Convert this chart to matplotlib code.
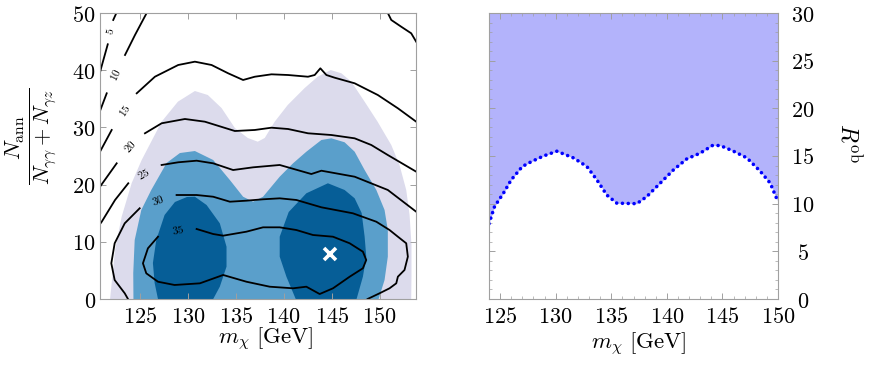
import numpy as np
import matplotlib
matplotlib.use('Agg')
import matplotlib.pyplot as plt
from matplotlib.ticker import MultipleLocator

plt.rcParams['mathtext.fontset'] = 'cm'
plt.rcParams['font.family'] = 'DejaVu Serif'

nan = np.nan

# ---- left panel: credible regions ----
lav_m = [121.88, 122.40, 123.09, 124.14, 125.18, 127.26, 128.96, 130.73, 132.08, 133.51,
         134.90, 136.25, 137.29, 138.02, 139.06, 140.42, 142.19, 143.54, 144.90, 146.01,
         147.05, 148.44, 149.79, 151.22, 152.08, 152.78, 153.13, 153.33, 153.33, 153.30]
lav_v = [0.0, 8.57, 14.39, 20.28, 24.30, 31.00, 34.50, 36.36, 35.66, 33.39,
         29.90, 28.15, 27.50, 28.15, 31.00, 33.92, 36.89, 38.86, 40.03, 39.46,
         37.99, 34.49, 31.00, 26.92, 23.43, 19.06, 14.69, 9.44, 4.20, 0.0]

mid_m = [124.32, 124.30, 124.45, 125.14, 126.18, 127.78, 129.17, 130.73, 132.64, 134.38,
         135.76, 136.80, 137.84, 139.58, 140.97, 142.36, 143.93, 144.97, 146.35, 147.40,
         148.44, 149.66, 150.52, 150.86, 150.86, 150.52, 149.90]
mid_v = [0.0, 4.55, 10.31, 15.56, 19.06, 23.78, 25.52, 25.87, 24.30, 20.80,
         17.88, 17.01, 17.88, 21.38, 23.72, 25.75, 27.80, 28.09, 27.40, 25.75,
         22.55, 19.06, 15.56, 12.06, 7.40, 3.32, 0.0]

darkL_m = [126.88, 126.53, 126.35, 126.70, 127.57, 128.65, 129.90, 130.73, 131.95, 133.33,
           134.03, 134.03, 133.33, 132.64]
darkL_v = [0.0, 2.80, 6.29, 10.31, 14.69, 16.96, 17.83, 17.88, 16.43, 13.23,
           9.14, 5.65, 2.15, 0.0]

darkR_m = [141.25, 140.28, 139.58, 139.58, 140.52, 142.36, 144.61, 146.35, 147.40, 148.13,
           148.44, 148.61, 148.26, 147.60]
darkR_v = [0.0, 3.90, 7.40, 10.89, 15.21, 18.48, 20.23, 19.06, 17.60, 15.03,
           10.89, 7.40, 3.90, 0.0]

# ---- left panel: contour lines (nan = gap) ----
c5_m = [122.54, 122.21, nan, 121.64, 120.94, 120.83]
c5_v = [50.0, 48.78, nan, 44.53, 40.33, 39.6]
c10_m = [125.70, 124.48, 123.44, nan, 121.53, 120.83, nan,
         150.86, 151.22, 152.26, 153.30, 153.82]
c10_v = [50.0, 46.15, 42.66, nan, 35.96, 32.87, nan,
         50.0, 48.78, 47.60, 46.45, 44.98]
c15_m = [124.66, 126.56, 128.99, 130.73, 132.47, 134.20, 135.76, 136.98, 138.72, 140.45,
         142.53, 143.23, 143.82, 144.45, 145.31, 147.40, 149.82, 151.91, 153.82,
         nan, 122.05, 120.83]
c15_v = [35.96, 38.86, 40.91, 41.49, 40.91, 39.46, 38.29, 38.86, 39.28, 39.16,
         38.86, 39.16, 40.33, 39.16, 38.69, 37.71, 35.66, 33.34, 31.00,
         nan, 29.55, 25.75]
c20_m = [125.52, 127.26, 129.69, 131.77, 134.90, 136.98, 138.72, 140.45, 142.53, 144.97,
         147.40, 149.14, 150.86, 153.82, nan, 122.57, 120.83]
c20_v = [28.97, 30.72, 31.47, 31.00, 29.37, 29.55, 29.95, 29.72, 28.97, 28.67,
         28.09, 26.92, 25.17, 22.26, nan, 23.72, 19.63]
c25_m = [127.26, 128.99, 130.91, 132.64, 134.72, 136.80, 139.58, 142.88, 143.93, 147.40,
         150.86, 153.82, nan, 123.78, 122.40, 121.01, 120.83]
c25_v = [23.43, 23.90, 24.18, 23.72, 22.55, 23.02, 23.43, 21.85, 22.43, 21.38,
         19.06, 15.26, nan, 20.23, 17.31, 13.51, 13.10]
c30_m = [128.82, 130.91, 132.64, 134.38, 136.11, 137.84, 139.58, 141.32, 143.93, 147.22,
         149.66, 151.04, 151.91, 152.78, 152.95, 152.60, 151.91, 151.74, 151.04, 150.00,
         148.75, nan, 124.97, 123.41, 122.36, 122.01, 122.36, 123.41, 123.75]
c30_v = [18.18, 18.18, 17.88, 17.01, 17.19, 17.43, 17.60, 17.31, 16.03, 14.98,
         13.51, 12.06, 10.89, 9.74, 7.40, 5.07, 3.90, 2.74, 1.87, 1.00,
         0.0, nan, 15.86, 13.23, 9.74, 6.24, 3.32, 1.00, 0.0]
c35_m = [130.91, 132.64, 133.68, 136.11, 137.84, 139.58, 141.32, 143.05, 145.14, 146.88,
         148.26, 148.61, 148.26, 146.88, 145.14, 143.75, 142.36, 140.97, 138.54, 136.11,
         133.68, 131.25, 128.61, 126.88, 125.66, 125.31, 125.83, 126.88]
c35_v = [12.24, 11.36, 11.07, 11.77, 12.53, 12.53, 12.06, 11.19, 10.89, 9.74,
         8.27, 6.82, 5.37, 3.90, 1.87, 0.87, 2.15, 1.87, 2.15, 3.02,
         4.20, 2.74, 2.45, 3.02, 4.49, 6.24, 8.86, 10.89]

label_levels = [5, 10, 15, 20, 25, 30, 35]
label_m = [121.88, 122.47, 123.36, 123.96, 125.34, 126.88, 128.96]
label_v = [46.85, 39.16, 33.04, 26.63, 21.98, 17.31, 12.15]
label_rot = [77, 64, 56, 47, 29, 20, 11]

best_m, best_v = 144.8, 7.8

# ---- right panel: R_ob bound ----
r_m = [124.0, 124.5, 125.3, 126.0, 127.0, 127.8, 128.9, 130.1, 131.6, 132.8, 133.7, 134.6,
       135.5, 137.3, 138.2, 139.4, 140.6, 141.8, 143.0, 144.1, 144.8, 146.0, 147.2, 148.4,
       149.3, 150.0]
r_v = [7.9, 9.7, 11.1, 12.5, 13.9, 14.4, 15.0, 15.5, 14.8, 13.9, 12.5, 10.9,
       10.05, 10.0, 10.75, 12.15, 13.55, 14.7, 15.3, 16.1, 16.1, 15.5, 14.8, 13.4,
       12.15, 10.2]

xticks_l = [125, 130, 135, 140, 145, 150]
yticks_l = [0, 10, 20, 30, 40, 50]
xticks_r = [125, 130, 135, 140, 145, 150]
yticks_r = [0, 5, 10, 15, 20, 25, 30]

spine_c = '#a0a0a0'
fs = 16
fl = 16.5

fig = plt.figure(figsize=(8.72, 3.65), dpi=100)
ax1 = fig.add_axes([100/872, 66/365, 316/872, 286/365])
ax2 = fig.add_axes([489/872, 66/365, 289/872, 286/365])

# left panel
ax1.fill(lav_m, lav_v, color='#dcdbec', lw=0)
ax1.fill(mid_m, mid_v, color='#5a9fcb', lw=0)
ax1.fill(darkL_m, darkL_v, color='#065e97', lw=0)
ax1.fill(darkR_m, darkR_v, color='#065e97', lw=0)
for cm_, cv_ in [(c5_m, c5_v), (c10_m, c10_v), (c15_m, c15_v), (c20_m, c20_v),
                 (c25_m, c25_v), (c30_m, c30_v), (c35_m, c35_v)]:
    ax1.plot(cm_, cv_, color='black', lw=1.3)
for lvl, lm, lv, rot in zip(label_levels, label_m, label_v, label_rot):
    ax1.text(lm, lv, '$%d$' % lvl, rotation=rot, fontsize=8, ha='center', va='center',
             rotation_mode='anchor')
ax1.plot(best_m, best_v, marker='x', color='white', ms=8, mew=2.6)

ax1.set_xlim(120.83, 153.8)
ax1.set_ylim(0, 50)
ax1.set_xticks(xticks_l)
ax1.set_xticklabels(['$%d$' % t for t in xticks_l])
ax1.set_yticks(yticks_l)
ax1.set_yticklabels(['$%d$' % t for t in yticks_l])
ax1.set_xlabel(r'$m_\chi\ [\mathrm{GeV}]$', fontsize=fl, va='center')
ax1.xaxis.set_label_coords(0.525, -0.143)
ax1.set_ylabel(r'$\frac{N_{\rm ann}}{N_{\gamma\gamma}+N_{\gamma z}}$', fontsize=23, va='center')
ax1.yaxis.set_label_coords(-0.218, 0.57)

# right panel
ax2.fill_between(r_m, r_v, 30, color='#b3b3fb', lw=0)
ax2.plot(r_m, r_v, color='#0000ff', lw=2.6, ls=(0, (0.01, 1.6)), dash_capstyle='round')
ax2.set_xlim(124, 150)
ax2.set_ylim(0, 30)
ax2.set_xticks(xticks_r)
ax2.set_xticklabels(['$%d$' % t for t in xticks_r])
ax2.set_yticks(yticks_r)
ax2.set_yticklabels(['$%d$' % t for t in yticks_r])
ax2.yaxis.tick_right()
ax2.xaxis.set_minor_locator(MultipleLocator(1))
ax2.yaxis.set_minor_locator(MultipleLocator(1))
ax2.set_xlabel(r'$m_\chi\ [\mathrm{GeV}]$', fontsize=fl, va='center')
ax2.xaxis.set_label_coords(0.52, -0.16)
ax2.yaxis.set_label_position('right')
ax2.set_ylabel(r'$R^{\rm ob}$', fontsize=17, rotation=-90, va='center', ha='center')
ax2.yaxis.set_label_coords(1.242, 0.545)

for ax in (ax1, ax2):
    for s in ax.spines.values():
        s.set_color(spine_c)
        s.set_linewidth(0.8)
    ax.tick_params(which='both', direction='in', top=True, bottom=True, left=True, right=True,
                   color=spine_c, labelsize=fs)
    ax.tick_params(which='major', length=4, width=0.7)
    ax.tick_params(which='minor', length=2, width=0.5)
    ax.tick_params(axis='x', pad=5)
ax1.tick_params(axis='y', pad=3)
ax2.tick_params(axis='y', which='both', left=True, right=True, labelleft=False, labelright=True, pad=18)
for lbl in ax2.get_yticklabels():
    lbl.set_ha('center')

fig.savefig('out.png', dpi=100)
